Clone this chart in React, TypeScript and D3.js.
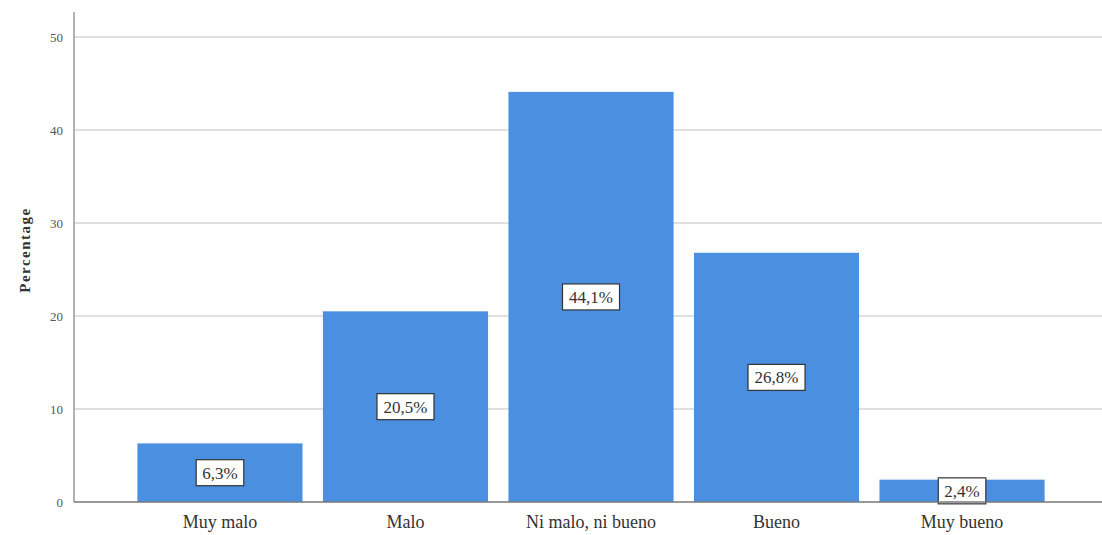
import React from "react";
import * as d3 from "d3";

const categories = ["Muy malo", "Malo", "Ni malo, ni bueno", "Bueno", "Muy bueno"];
const values = [6.3, 20.5, 44.1, 26.8, 2.4];
const valueLabels = ["6,3%", "20,5%", "44,1%", "26,8%", "2,4%"];
const yTicks = [0, 10, 20, 30, 40, 50];

export default function App() {
  const W = 1102, H = 535;
  const x = d3.scaleBand<string>().domain(categories).range([117, 1065]).padding(0.11);
  const y = d3.scaleLinear().domain([0, 50]).range([502, 37]);
  const font = "'Liberation Serif', 'Times New Roman', serif";
  return (
    <svg width={W} height={H} style={{ position: "absolute", left: 0, top: 0, background: "#fff" }}>
      {yTicks.map((t) => (
        <g key={t}>
          {t > 0 && <line x1={74} x2={W} y1={y(t)} y2={y(t)} stroke="#d6d6d6" strokeWidth={1.3} />}
          <text x={63} y={y(t)} dy="0.35em" textAnchor="end" fontSize={13} fontFamily={font} fill="#555">{t}</text>
        </g>
      ))}
      <line x1={74} x2={74} y1={12} y2={502} stroke="#8a8a8a" strokeWidth={1.3} />
      {categories.map((c, i) => {
        const bx = x(c)!;
        const bw = x.bandwidth();
        const top = y(values[i]);
        const mid = (top + y(0)) / 2;
        const boxW = valueLabels[i].length * 9.4 + 10;
        return (
          <g key={c}>
            <rect x={bx} y={top} width={bw} height={y(0) - top} fill="#4a8fe0" />
            <rect x={bx + bw / 2 - boxW / 2} y={mid - 13} width={boxW} height={26} fill="#fff" stroke="#333" strokeWidth={1.2} />
            <text x={bx + bw / 2} y={mid} dy="0.35em" textAnchor="middle" fontSize={17} fontFamily={font} fill="#333">{valueLabels[i]}</text>
            <text x={bx + bw / 2} y={522} dy="0.35em" textAnchor="middle" fontSize={18} fontFamily={font} fill="#333">{c}</text>
          </g>
        );
      })}
      <line x1={74} x2={W} y1={502} y2={502} stroke="#777" strokeWidth={1.3} />
      <text transform="translate(25,250) rotate(-90)" textAnchor="middle" dy="0.35em" fontSize={15} fontWeight="bold" letterSpacing={1.5} fontFamily={font} fill="#333">Percentage</text>
    </svg>
  );
}
